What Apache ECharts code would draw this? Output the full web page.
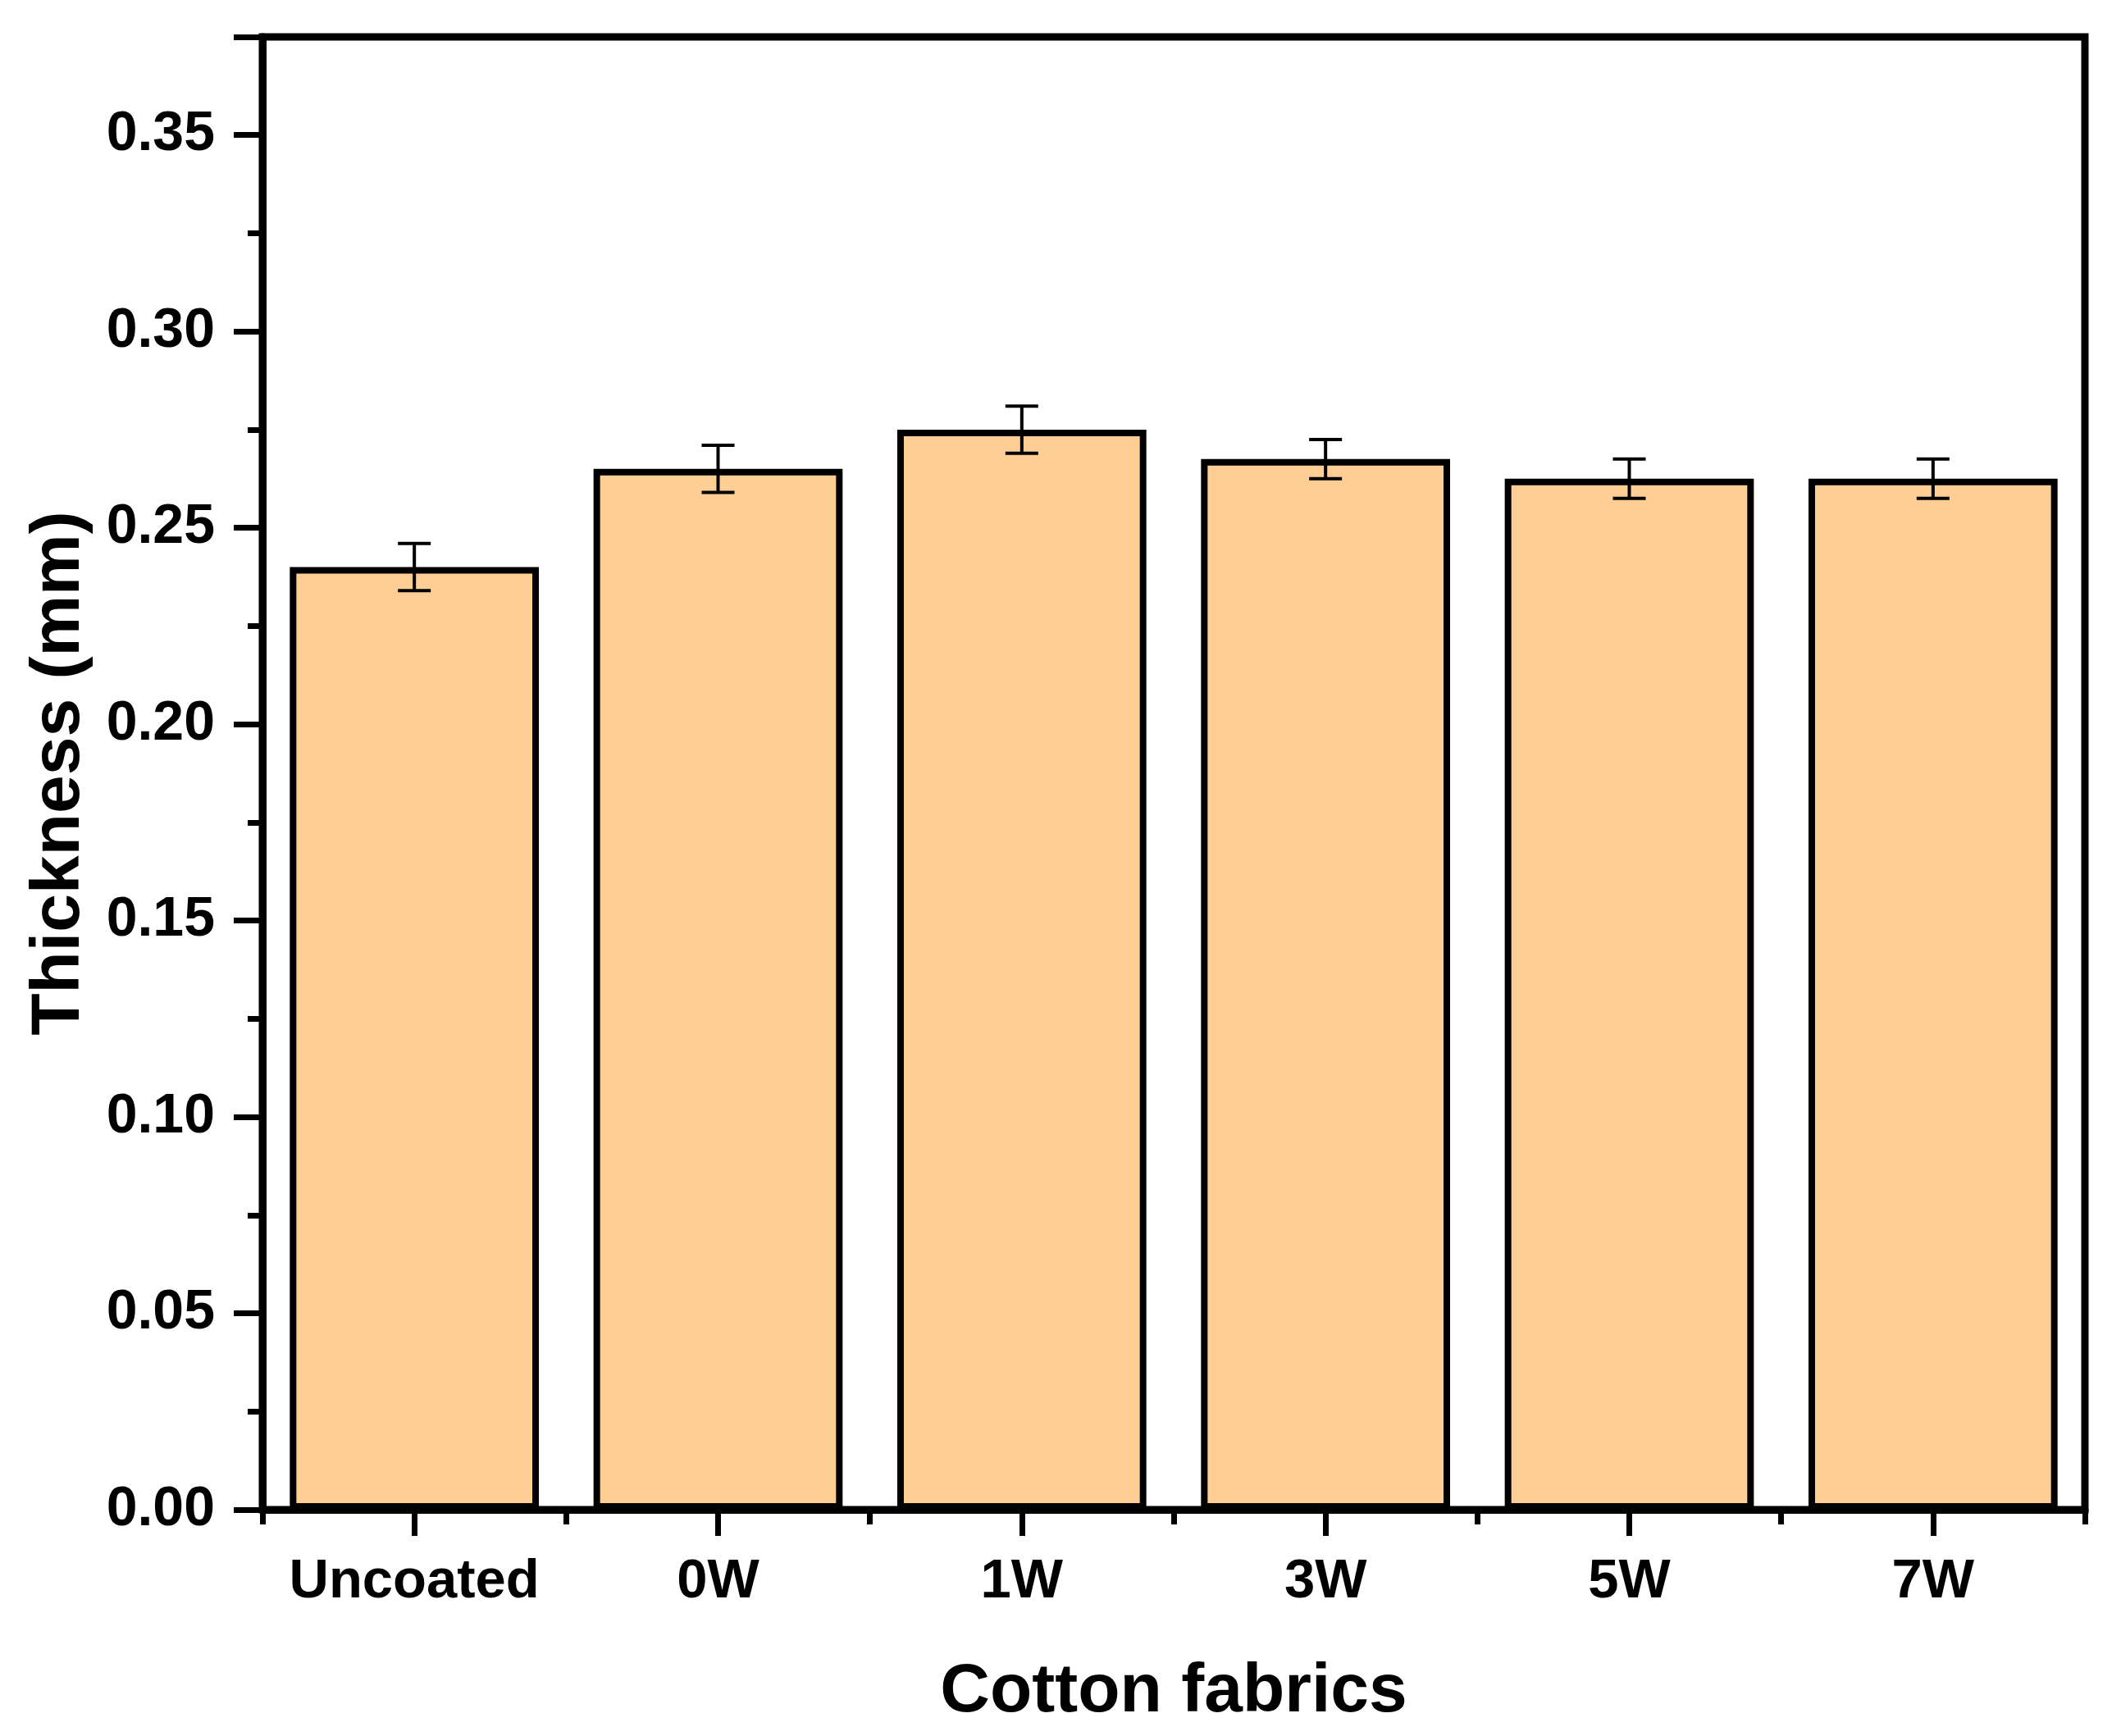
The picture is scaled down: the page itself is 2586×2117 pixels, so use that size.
<!DOCTYPE html>
<html>
<head>
<meta charset="utf-8">
<script src="https://cdn.jsdelivr.net/npm/echarts@6/dist/echarts.min.js"></script>
<style>
  html, body { margin: 0; padding: 0; background: #fff; }
  #chart { width: 2586px; height: 2117px; }
</style>
</head>
<body>
<div id="chart"></div>
<script>
// fabric samples and measured thickness (mm)
const categories = ['Uncoated', '0W', '1W', '3W', '5W', '7W'];
const thickness = [0.240, 0.265, 0.275, 0.2675, 0.2625, 0.2625];
const thicknessErr = [0.006, 0.006, 0.006, 0.005, 0.005, 0.005];
const yTicks = [0, 0.05, 0.10, 0.15, 0.20, 0.25, 0.30, 0.35];

const font = 'Liberation Sans, Arial, sans-serif';

let chart = echarts.init(document.getElementById('chart'), null, { renderer: 'canvas' });

// error bars: [index, low, high]
let errData = categories.map((c, i) => [i, thickness[i] - thicknessErr[i], thickness[i] + thicknessErr[i]]);

chart.setOption({
    animation: false,
    backgroundColor: '#fff',
    grid: {
        left: 320, right: 44, top: 45, bottom: 276,
        show: true,
        borderColor: '#000',
        borderWidth: 9,
        backgroundColor: 'transparent'
    },
    xAxis: [{
        type: 'category',
        data: categories,
        boundaryGap: true,
        name: 'Cotton fabrics',
        nameLocation: 'middle',
        nameGap: 181,
        nameTextStyle: { fontFamily: font, fontWeight: 'bold', fontSize: 84, color: '#000' },
        axisLine: { show: true, lineStyle: { color: '#000', width: 9 } },
        axisTick: { show: true, interval: 0, alignWithLabel: true, inside: false, length: 32, lineStyle: { color: '#000', width: 7 } },
        axisLabel: { interval: 0, margin: 55, fontFamily: font, fontWeight: 'bold', fontSize: 67, color: '#000' },
        splitLine: { show: false }
    }, {
        // short ticks on category boundaries
        type: 'category',
        data: categories,
        position: 'bottom',
        boundaryGap: true,
        axisLine: { show: false },
        axisTick: { show: true, interval: 0, inside: false, length: 18, lineStyle: { color: '#000', width: 7 } },
        axisLabel: { show: false },
        splitLine: { show: false }
    }],
    yAxis: {
        type: 'value',
        min: 0,
        max: 0.375,
        interval: 0.05,
        name: 'Thickness (mm)',
        nameLocation: 'middle',
        nameGap: 205,
        nameTextStyle: { fontFamily: font, fontWeight: 'bold', fontSize: 84, color: '#000' },
        axisLine: { show: true, lineStyle: { color: '#000', width: 9 } },
        axisTick: { show: true, length: 35, lineStyle: { color: '#000', width: 7 } },
        minorTick: { show: true, splitNumber: 2, length: 18, lineStyle: { color: '#000', width: 7 } },
        axisLabel: {
            margin: 58,
            fontFamily: font, fontWeight: 'bold', fontSize: 68, color: '#000',
            formatter: v => yTicks.some(t => Math.abs(t - v) < 1e-9) ? v.toFixed(2) : ''
        },
        splitLine: { show: false }
    },
    series: [{
        name: 'Thickness',
        type: 'bar',
        data: thickness,
        barWidth: '82%',
        itemStyle: { color: '#FECE94', borderColor: '#000', borderWidth: 8 },
        z: 2
    }, {
        name: 'Error',
        type: 'custom',
        data: errData,
        z: 3,
        renderItem: (params, api) => {
            let x = api.value(0);
            let lo = api.coord([x, api.value(1)]);
            let hi = api.coord([x, api.value(2)]);
            let cap = 20;
            let style = { stroke: '#000', lineWidth: 4, fill: null };
            return {
                type: 'group',
                children: [
                    { type: 'line', shape: { x1: hi[0], y1: hi[1], x2: lo[0], y2: lo[1] }, style },
                    { type: 'line', shape: { x1: hi[0] - cap, y1: hi[1], x2: hi[0] + cap, y2: hi[1] }, style },
                    { type: 'line', shape: { x1: lo[0] - cap, y1: lo[1], x2: lo[0] + cap, y2: lo[1] }, style }
                ]
            };
        }
    }]
});
</script>
</body>
</html>
